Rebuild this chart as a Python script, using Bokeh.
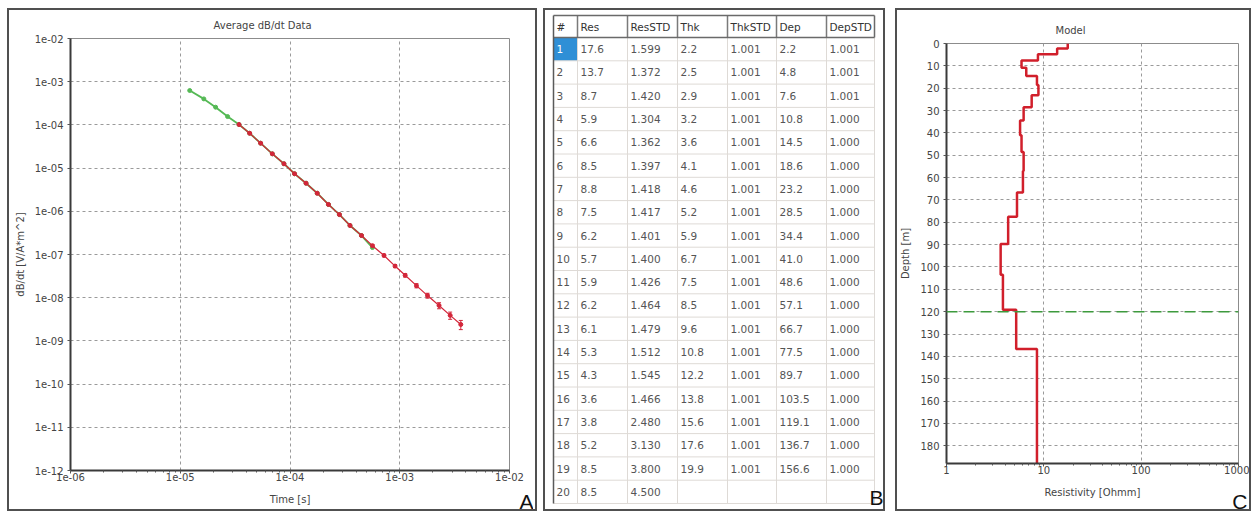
from bokeh.plotting import figure
from bokeh.layouts import row, column
from bokeh.models import (Range1d, FixedTicker, Whisker, TeeHead, ColumnDataSource,
                          Span)
from bokeh.core.properties import value
from bokeh.embed import file_html
from bokeh.resources import INLINE

# ---------------- Transient decay (panel A) ----------------
times = [1.22e-5, 1.64e-5, 2.10e-5, 2.70e-5, 3.43e-5, 4.29e-5, 5.40e-5, 6.90e-5,
         8.81e-5, 1.10e-4, 1.40e-4, 1.77e-4, 2.24e-4, 2.82e-4, 3.52e-4, 4.48e-4,
         5.64e-4, 7.19e-4, 9.06e-4, 1.12e-3, 1.42e-3, 1.79e-3, 2.28e-3, 2.88e-3,
         3.60e-3]
# forward response of the model (green)
resp_times = times[:17]
resp_vals = [6.25e-4, 4.0e-4, 2.57e-4, 1.56e-4, 1.02e-4, 6.4e-5, 3.77e-5, 2.14e-5,
             1.26e-5, 7.4e-6, 4.47e-6, 2.62e-6, 1.44e-6, 8.4e-7, 4.7e-7, 2.75e-7,
             1.45e-7]
# averaged measured dB/dt with relative error (red)
data_times = times[4:]
data_vals = [1.02e-4, 6.4e-5, 3.77e-5, 2.14e-5, 1.26e-5, 7.4e-6, 4.47e-6, 2.62e-6,
             1.44e-6, 8.4e-7, 4.7e-7, 2.75e-7, 1.6e-7, 9.5e-8, 5.4e-8, 3.3e-8,
             1.9e-8, 1.12e-8, 6.6e-9, 3.9e-9, 2.4e-9]
data_rel_err = [0.03, 0.03, 0.03, 0.03, 0.03, 0.03, 0.04, 0.04, 0.04, 0.04, 0.05,
                0.05, 0.06, 0.07, 0.08, 0.09, 0.11, 0.13, 0.16, 0.19, 0.24]

time_ticks = [1e-6, 1e-5, 1e-4, 1e-3, 1e-2]
time_tick_labels = ["1e-06", "1e-05", "1e-04", "1e-03", "1e-02"]
dbdt_ticks = [1e-12, 1e-11, 1e-10, 1e-9, 1e-8, 1e-7, 1e-6, 1e-5, 1e-4, 1e-3, 1e-2]
dbdt_tick_labels = ["1e-12", "1e-11", "1e-10", "1e-09", "1e-08", "1e-07", "1e-06",
                    "1e-05", "1e-04", "1e-03", "1e-02"]

# ---------------- Layered model (panels B and C) ----------------
layer_no = [1, 2, 3, 4, 5, 6, 7, 8, 9, 10, 11, 12, 13, 14, 15, 16, 17, 18, 19, 20]
res = [17.6, 13.7, 8.7, 5.9, 6.6, 8.5, 8.8, 7.5, 6.2, 5.7, 5.9, 6.2, 6.1, 5.3, 4.3,
       3.6, 3.8, 5.2, 8.5, 8.5]
res_std = [1.599, 1.372, 1.420, 1.304, 1.362, 1.397, 1.418, 1.417, 1.401, 1.400,
           1.426, 1.464, 1.479, 1.512, 1.545, 1.466, 2.480, 3.130, 3.800, 4.500]
thk = [2.2, 2.5, 2.9, 3.2, 3.6, 4.1, 4.6, 5.2, 5.9, 6.7, 7.5, 8.5, 9.6, 10.8, 12.2,
       13.8, 15.6, 17.6, 19.9]
thk_std = [1.001, 1.001, 1.001, 1.001, 1.001, 1.001, 1.001, 1.001, 1.001, 1.001,
           1.001, 1.001, 1.001, 1.001, 1.001, 1.001, 1.001, 1.001, 1.001]
dep = [2.2, 4.8, 7.6, 10.8, 14.5, 18.6, 23.2, 28.5, 34.4, 41.0, 48.6, 57.1, 66.7,
       77.5, 89.7, 103.5, 119.1, 136.7, 156.6]
dep_std = [1.001, 1.001, 1.001, 1.000, 1.000, 1.000, 1.000, 1.000, 1.000, 1.000,
           1.000, 1.000, 1.000, 1.000, 1.000, 1.000, 1.000, 1.000, 1.000]
doi_depth = 120.0

res_ticks = [1, 10, 100, 1000]
res_tick_labels = ["1", "10", "100", "1000"]
depth_ticks = [0, 10, 20, 30, 40, 50, 60, 70, 80, 90, 100, 110, 120, 130, 140, 150,
               160, 170, 180]

# ---------------- styling ----------------
FONT = "DejaVu Sans"
TXT = "#444444"
GREEN = "#55b955"
RED = "#d3263a"
FRAME = {"border": "2px solid #505050"}
BOX_H = 503          # outer panel height including its 2px border


def log_minors(lo_exp, hi_exp):
    return [m * 10.0 ** e for e in range(lo_exp, hi_exp) for m in range(2, 10)]


def style_plot(p):
    p.background_fill_color = "white"
    p.border_fill_color = "white"
    p.outline_line_color = "#8c8c8c"
    p.outline_line_width = 1
    for ax in (p.xaxis[0], p.yaxis[0]):
        ax.axis_line_color = "#3a3a3a"
        ax.axis_line_width = 2
        ax.major_tick_line_color = "#555555"
        ax.major_tick_out = 3
        ax.major_tick_in = 0
        ax.minor_tick_line_color = "#555555"
        ax.minor_tick_out = 2
        ax.minor_tick_in = 0
        ax.major_label_text_font = FONT
        ax.major_label_text_font_size = "10px"
        ax.major_label_text_color = TXT
        ax.axis_label_text_font = FONT
        ax.axis_label_text_font_size = "10px"
        ax.axis_label_text_font_style = "normal"
        ax.axis_label_text_color = TXT
    p.xaxis.major_label_standoff = -1
    p.yaxis.major_label_standoff = 4
    for g in (p.xgrid[0], p.ygrid[0]):
        g.grid_line_color = "#9a9a9a"
        g.grid_line_dash = "3 3"
        g.grid_line_width = 1
    p.title.text_font = FONT
    p.title.text_font_size = "10px"
    p.title.text_font_style = "normal"
    p.title.text_color = TXT
    p.title.align = "left"
    p.title.standoff = 15


def corner_letter(letter):
    """Small transparent canvas carrying a panel letter, centred vertically."""
    q = figure(width=24, height=40, x_range=Range1d(0, 1), y_range=Range1d(0, 1),
               output_backend="svg", toolbar_location=None,
               x_axis_location=None, y_axis_location=None,
               min_border=0, min_border_left=0, min_border_right=0,
               min_border_top=0, min_border_bottom=0)
    q.grid.visible = False
    q.outline_line_color = None
    q.background_fill_color = None
    q.border_fill_color = None
    q.text(x=[1], y=[0.5], text=[letter], text_align="right",
           text_baseline="middle", text_font=value("Liberation Sans"),
           text_font_size="21px", text_color="#111111")
    return q


# ---------------- Panel A: average dB/dt ----------------
pA = figure(width=530, height=BOX_H, x_axis_type="log", y_axis_type="log",
            x_range=Range1d(1e-6, 1e-2), y_range=Range1d(1e-12, 1e-2),
            title="Average dB/dt Data",
            output_backend="svg", toolbar_location=None,
            min_border_left=61, min_border_right=30, min_border_top=28,
            min_border_bottom=43, styles=FRAME)
style_plot(pA)
pA.title.offset = 143
pA.xaxis.ticker = FixedTicker(ticks=time_ticks, minor_ticks=log_minors(-6, -2))
pA.xaxis.major_label_overrides = dict(zip(time_ticks, time_tick_labels))
pA.yaxis.ticker = FixedTicker(ticks=dbdt_ticks, minor_ticks=[])
pA.yaxis.major_label_overrides = dict(zip(dbdt_ticks, dbdt_tick_labels))
pA.yaxis.minor_tick_line_color = None
pA.xaxis.axis_label = "Time [s]"
pA.yaxis.axis_label = "dB/dt [V/A*m^2]"
pA.xaxis.axis_label_standoff = 10
pA.yaxis.axis_label_standoff = 6

resp_src = ColumnDataSource(dict(t=resp_times, v=resp_vals))
pA.line("t", "v", source=resp_src, line_color=GREEN, line_width=1.8)
pA.scatter("t", "v", source=resp_src, marker="circle", size=4,
           line_color=GREEN, fill_color=GREEN)

data_src = ColumnDataSource(dict(
    t=data_times, v=data_vals,
    lo=[v * (1 - e) for v, e in zip(data_vals, data_rel_err)],
    hi=[v * (1 + e) for v, e in zip(data_vals, data_rel_err)]))
pA.line("t", "v", source=data_src, line_color=RED, line_width=1.2)
pA.add_layout(Whisker(source=data_src, base="t", lower="lo", upper="hi",
                      dimension="height", line_color=RED, line_width=1,
                      lower_head=TeeHead(size=4, line_color=RED, line_width=1),
                      upper_head=TeeHead(size=4, line_color=RED, line_width=1)))
pA.scatter("t", "v", source=data_src, marker="circle", size=4,
           line_color=RED, fill_color=RED)

# ---------------- Panel B: model parameter table ----------------
BW = 342
pB = figure(width=BW, height=BOX_H, x_range=Range1d(0, BW), y_range=Range1d(BOX_H, 0),
            output_backend="svg", toolbar_location=None,
            x_axis_location=None, y_axis_location=None,
            min_border=0, min_border_left=0, min_border_right=0,
            min_border_top=0, min_border_bottom=0, styles=FRAME)
pB.grid.visible = False
pB.outline_line_color = None
pB.background_fill_color = "white"
pB.border_fill_color = "white"

headers = ["#", "Res", "ResSTD", "Thk", "ThkSTD", "Dep", "DepSTD"]
col_w = [24, 50, 50, 50, 49, 50, 48]
tab_left, tab_top, head_h, row_h = 8, 5, 22, 23.3
col_edges = [tab_left]
for w in col_w:
    col_edges.append(col_edges[-1] + w)
n_rows = len(layer_no)
body_top = tab_top + head_h
body_bot = body_top + n_rows * row_h


def fmt(vals, n, pat):
    return [pat % v for v in vals] + [""] * (n - len(vals))


columns = [
    [str(k) for k in layer_no],
    fmt(res, n_rows, "%.1f"),
    fmt(res_std, n_rows, "%.3f"),
    fmt(thk, n_rows, "%.1f"),
    fmt(thk_std, n_rows, "%.3f"),
    fmt(dep, n_rows, "%.1f"),
    fmt(dep_std, n_rows, "%.3f"),
]

# selected cell
pB.quad(left=[col_edges[0]], right=[col_edges[1]], top=[body_top],
        bottom=[body_top + row_h], fill_color="#2f8fd6", line_color=None)

# body grid
hy = [body_top + r * row_h for r in range(1, n_rows + 1)]
pB.segment(x0=[col_edges[0]] * len(hy), x1=[col_edges[-1]] * len(hy), y0=hy, y1=hy,
           line_color="#dedad6", line_width=1)
pB.segment(x0=col_edges[1:], x1=col_edges[1:], y0=[body_top] * len(col_w),
           y1=[body_bot] * len(col_w), line_color="#dedad6", line_width=1)

# header frame
pB.segment(x0=col_edges[1:-1], x1=col_edges[1:-1], y0=[tab_top] * (len(col_w) - 1),
           y1=[body_top] * (len(col_w) - 1), line_color="#7a7a7a", line_width=1.5)
pB.segment(x0=[col_edges[0], col_edges[0]], x1=[col_edges[-1], col_edges[-1]],
           y0=[tab_top, body_top], y1=[tab_top, body_top],
           line_color="#6a6a6a", line_width=1.5)
pB.segment(x0=[col_edges[-1]], x1=[col_edges[-1]], y0=[tab_top], y1=[body_top],
           line_color="#6a6a6a", line_width=1.5)
pB.segment(x0=[col_edges[0]], x1=[col_edges[0]], y0=[tab_top], y1=[body_bot],
           line_color="#5a5a5a", line_width=1.5)

# header text
pB.text(x=[e + 3 for e in col_edges[:-1]], y=[tab_top + head_h / 2] * len(headers),
        text=headers, text_font=value(FONT), text_font_size="10.5px",
        text_color="#333333", text_align="left", text_baseline="middle")

# body text
tx, ty, tt, tc = [], [], [], []
for c, col in enumerate(columns):
    for r, s in enumerate(col):
        if s == "":
            continue
        tx.append(col_edges[c] + 3)
        ty.append(body_top + (r + 0.5) * row_h)
        tt.append(s)
        tc.append("white" if (c == 0 and r == 0) else "#555555")
pB.text(x=tx, y=ty, text=tt, text_color=tc, text_font=value(FONT),
        text_font_size="10.5px", text_align="left", text_baseline="middle")
pB.text(x=[col_edges[-1] + 9], y=[body_bot - 6], text=["B"], text_align="right",
        text_baseline="middle", text_font=value("Liberation Sans"),
        text_font_size="21px", text_color="#111111")

# ---------------- Panel C: resistivity model ----------------
depth_max = dep[-1] * 1.2
pC = figure(width=356, height=BOX_H, x_axis_type="log",
            x_range=Range1d(1, 1000), y_range=Range1d(depth_max, 0),
            title="Model", output_backend="svg", toolbar_location=None,
            min_border_left=47, min_border_right=15, min_border_top=33,
            min_border_bottom=50, styles=FRAME)
style_plot(pC)
pC.title.offset = 109
pC.xaxis.ticker = FixedTicker(ticks=res_ticks, minor_ticks=log_minors(0, 3))
pC.xaxis.major_label_overrides = dict(zip(res_ticks, res_tick_labels))
pC.yaxis.ticker = FixedTicker(ticks=depth_ticks, minor_ticks=[])
pC.yaxis.minor_tick_line_color = None
pC.xaxis.axis_label = "Resistivity [Ohmm]"
pC.yaxis.axis_label = "Depth [m]"
pC.xaxis.axis_label_standoff = 10
pC.yaxis.axis_label_standoff = 6

step_x, step_y = [], []
top = 0.0
for i, r in enumerate(res):
    bottom = dep[i] if i < len(dep) else depth_max
    step_x += [r, r]
    step_y += [top, bottom]
    top = bottom
pC.line(step_x, step_y, line_color="#d11f2b", line_width=2.5)
pC.add_layout(Span(location=doi_depth, dimension="width", line_color="#3d9a3d",
                   line_dash="11 6", line_width=1.5))

# each panel sits in its own box so the plot frames are laid out independently;
# the panel letters overlap the lower right corner of their panel
layout = row(
    column(pA, column(corner_letter("A"), margin=(-30, 0, 0, 502)),
           margin=(8, 0, 0, 7)),
    column(pB, margin=(8, 0, 0, 6)),
    column(pC, column(corner_letter("C"), margin=(-30, 0, 0, 328)),
           margin=(8, 0, 0, 10)),
)
open("out.html", "w").write(file_html(layout, INLINE))
